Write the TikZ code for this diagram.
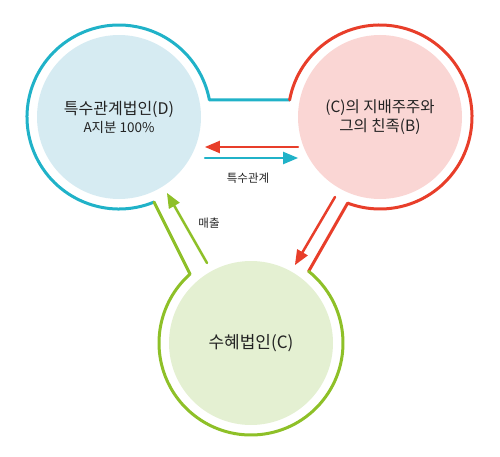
\documentclass[tikz,border=0pt]{standalone}
\usepackage{fontspec}
\setmainfont{Noto Sans CJK KR}
\usetikzlibrary{arrows}
\definecolor{ringblue}{RGB}{32,178,200}
\definecolor{fillblue}{RGB}{214,235,242}
\definecolor{ringred}{RGB}{232,62,42}
\definecolor{fillred}{RGB}{250,214,212}
\definecolor{ringgreen}{RGB}{142,192,40}
\definecolor{fillgreen}{RGB}{228,240,210}
\definecolor{txt}{RGB}{35,35,35}

\begin{document}
\begin{tikzpicture}[line cap=round,line join=round,>=triangle 45,x=1pt,y=1pt,
    party/.style={circle,minimum size=164pt,inner sep=0pt,align=center,text=txt},
    ring/.style={line width=3pt},
    flow/.style={->,line width=2.5pt},
    lbl/.style={text=txt,font=\fontsize{11.5}{13}\selectfont}]
            \useasboundingbox (0,0) rectangle (500,456);

            % the three parties
            \node [party,fill=fillblue,font=\fontsize{16}{18}\selectfont] (d) at (119,339) {특수관계법인(D)\\{\fontsize{13.5}{16}\selectfont A지분 100\%}};
            \node [party,fill=fillred,font=\fontsize{15.5}{19}\selectfont] (b) at (380,339) {(C)의 지배주주와\\그의 친족(B)};
            \node [party,fill=fillgreen,font=\fontsize{17}{20}\selectfont] (c) at (251,113) {수혜법인(C)};

            % rings
            \draw [ring,ringblue] ([shift={(-67.6:92)}]d.center) arc [start angle=-67.6,end angle=-349.3,radius=92] -- ([shift={(169.3:92)}]b.center);
            \draw [ring,ringred] ([shift={(169.3:92)}]b.center) arc [start angle=169.3,end angle=-110.6,radius=92] -- ([shift={(51.2:92)}]c.center);
            \draw [ring,ringgreen] ([shift={(51.2:92)}]c.center) arc [start angle=51.2,end angle=-228.5,radius=92] -- ([shift={(-67.6:92)}]d.center);

            % arrows
            \coordinate (bd1) at (298,309);
            \coordinate (db1) at (205,309);
            \coordinate (db2) at (205,298);
            \coordinate (bd2) at (298,298);
            \coordinate (bc) at (335,259);
            \coordinate (cb) at (295,191);
            \coordinate (cd) at (207,193);
            \coordinate (dc) at (167,263);
            \draw [flow,ringred] (bd1) -- (db1);
            \draw [flow,ringblue] (db2) -- (bd2);
            \draw [flow,ringred] (bc) -- (cb);
            \draw [flow,ringgreen] (cd) -- (dc);

            \node [lbl] (rel) at (248,278) {특수관계};
            \node [lbl] (sales) at (209,233) {매출};
\end{tikzpicture}
\end{document}
